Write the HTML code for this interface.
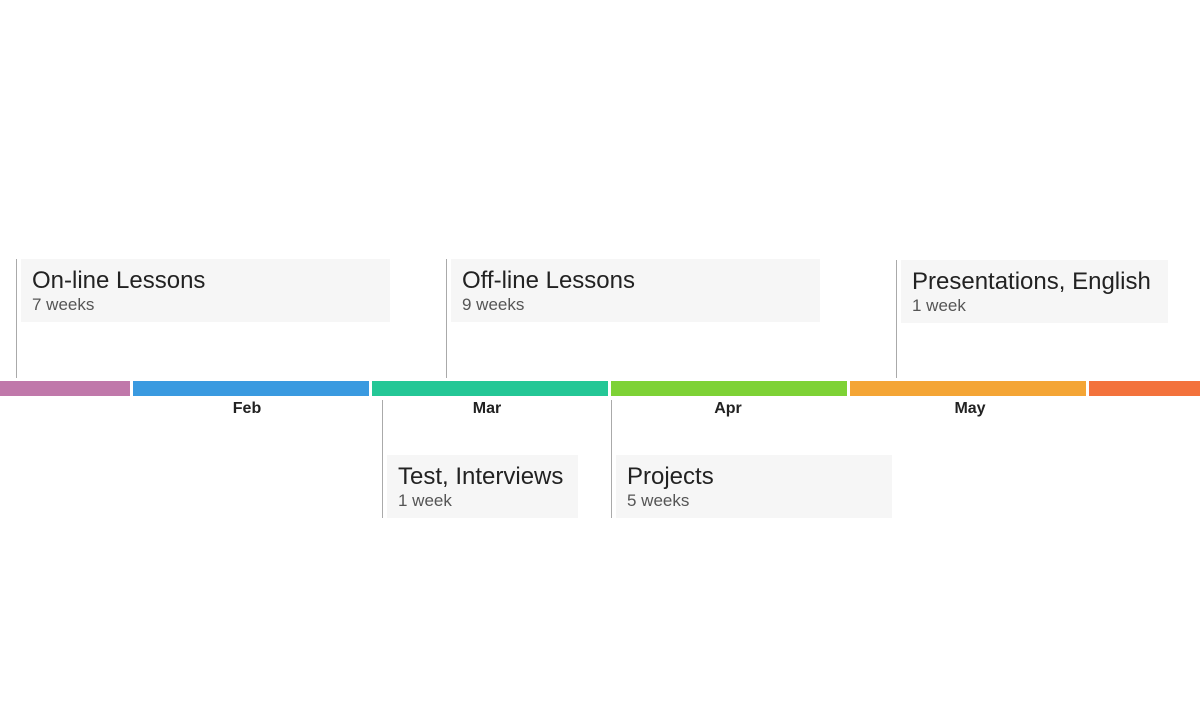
<!DOCTYPE html>
<html><head><meta charset="utf-8"><style>
body{margin:0;width:1200px;height:715px;background:#fff;position:relative;overflow:hidden;font-family:"Liberation Sans",sans-serif}
.seg{position:absolute;top:381px;height:15px}
.m{position:absolute;top:400px;font-weight:bold;font-size:16px;line-height:18px;color:#222;width:100px;text-align:center}
.ln{position:absolute;width:1px;background:#aaa}
.box{position:absolute;background:#f6f6f6;box-sizing:border-box;padding-left:11px}
.t{font-size:24px;color:#222;line-height:28px;margin-top:8px}
.s{font-size:17px;color:#555;line-height:18px;margin-top:1px}
</style></head><body>
<div class="seg" style="left:0;width:130px;background:#c078aa"></div>
<div class="seg" style="left:133px;width:236px;background:#3a9ae0"></div>
<div class="seg" style="left:372px;width:236px;background:#24c796"></div>
<div class="seg" style="left:611px;width:236px;background:#7ed235"></div>
<div class="seg" style="left:850px;width:236px;background:#f4a535"></div>
<div class="seg" style="left:1089px;width:111px;background:#f3723c"></div>
<div class="m" style="left:197px">Feb</div>
<div class="m" style="left:437px">Mar</div>
<div class="m" style="left:678px">Apr</div>
<div class="m" style="left:920px">May</div>

<div class="ln" style="left:16px;top:259px;height:119px"></div>
<div class="box" style="left:21px;top:259px;width:369px;height:63px"><div class="t">On-line Lessons</div><div class="s">7 weeks</div></div>
<div class="ln" style="left:446px;top:259px;height:119px"></div>
<div class="box" style="left:451px;top:259px;width:369px;height:63px"><div class="t">Off-line Lessons</div><div class="s">9 weeks</div></div>
<div class="ln" style="left:896px;top:260px;height:118px"></div>
<div class="box" style="left:901px;top:260px;width:267px;height:63px"><div class="t">Presentations, English</div><div class="s">1 week</div></div>

<div class="ln" style="left:382px;top:400px;height:118px"></div>
<div class="box" style="left:387px;top:455px;width:191px;height:63px"><div class="t">Test, Interviews</div><div class="s">1 week</div></div>
<div class="ln" style="left:611px;top:400px;height:118px"></div>
<div class="box" style="left:616px;top:455px;width:276px;height:63px"><div class="t">Projects</div><div class="s">5 weeks</div></div>
</body></html>
